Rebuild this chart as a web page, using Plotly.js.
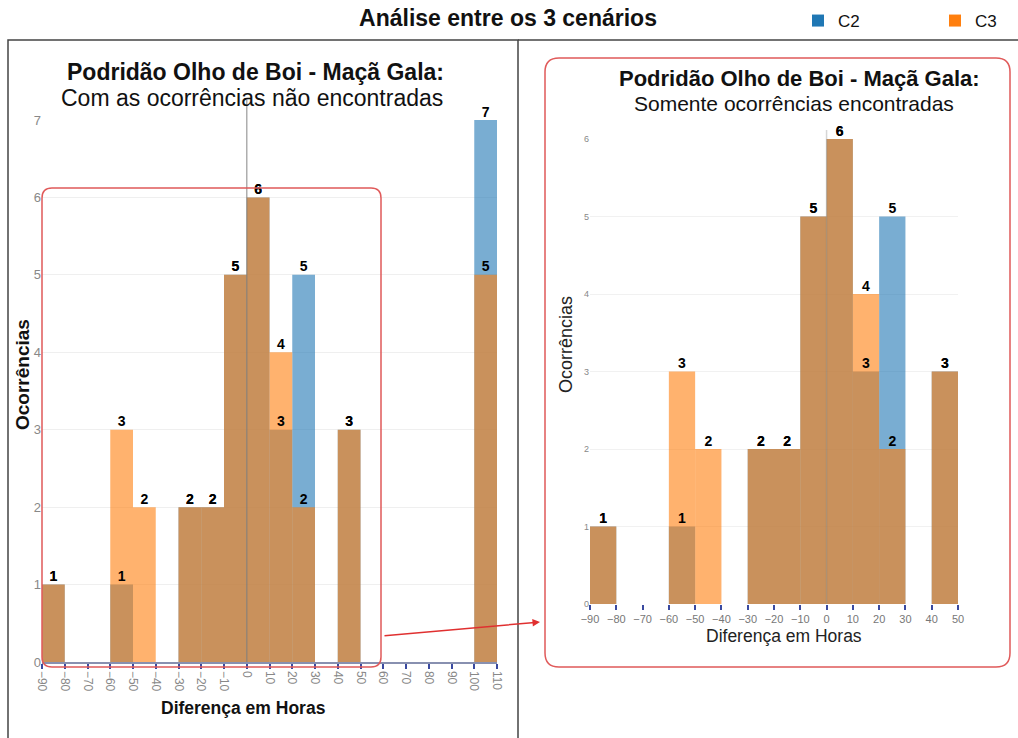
<!DOCTYPE html>
<html><head><meta charset="utf-8">
<script src="https://cdn.plot.ly/plotly-3.0.1.min.js"></script>
<style>html,body{margin:0;padding:0;background:#fff}#chart{width:1018px;height:738px}</style>
</head><body><div id="chart"></div>
<script>
// Bin starts (hours), bin width 10
const binStartAll = [-90, -60, -50, -30, -20, -10, 0, 10, 20, 40, 100];
const c2All       = [1, 1, 0, 2, 2, 5, 6, 3, 5, 3, 7];
const c3All       = [1, 3, 2, 2, 2, 5, 6, 4, 2, 3, 5];

const binStartFound = [-90, -60, -50, -30, -20, -10, 0, 10, 20, 40];
const c2Found       = [1, 1, 0, 2, 2, 5, 6, 3, 5, 3];
const c3Found       = [1, 3, 2, 2, 2, 5, 6, 4, 2, 3];

const binWidth = 10;
const seriesNames = ['C2', 'C3'];
const seriesColors = ['#1f77b4', '#ff7f0e'];

const W = 1018, H = 738;
const X = p => p / W, Y = p => 1 - p / H;
const FONT = 'Liberation Sans, Arial, sans-serif';
const lbl = v => v.map(n => n > 0 ? String(n) : '');

function bars(xs, ys, i, xa, ya, showleg) {
  return {
    type: 'bar', name: seriesNames[i], x: xs, y: ys, width: binWidth, offset: 0,
    marker: {color: seriesColors[i], opacity: 0.6, line: {width: 0}},
    xaxis: xa, yaxis: ya, showlegend: showleg, legendgroup: seriesNames[i], hoverinfo: 'x+y+name'
  };
}
function labels(xs, ys, xa, ya) {
  return {
    type: 'scatter', mode: 'text', x: xs.map(v => v + binWidth / 2), y: ys, text: lbl(ys),
    textposition: 'top center', cliponaxis: false,
    textfont: {family: FONT, size: 14, color: '#000', weight: 'bold'},
    xaxis: xa, yaxis: ya, showlegend: false, hoverinfo: 'skip'
  };
}

const data = [
  bars(binStartAll, c2All, 0, 'x', 'y', true),
  bars(binStartAll, c3All, 1, 'x', 'y', true),
  bars(binStartFound, c2Found, 0, 'x2', 'y2', false),
  bars(binStartFound, c3Found, 1, 'x2', 'y2', false),
  labels(binStartAll, c2All, 'x', 'y'),
  labels(binStartAll, c3All, 'x', 'y'),
  labels(binStartFound, c2Found, 'x2', 'y2'),
  labels(binStartFound, c3Found, 'x2', 'y2')
];

function rr(x0, y0, x1, y1, r) {
  const P = (x, y) => X(x) + ',' + Y(y);
  return 'M' + P(x0 + r, y0) + ' L' + P(x1 - r, y0) + ' Q' + P(x1, y0) + ' ' + P(x1, y0 + r) +
    ' L' + P(x1, y1 - r) + ' Q' + P(x1, y1) + ' ' + P(x1 - r, y1) +
    ' L' + P(x0 + r, y1) + ' Q' + P(x0, y1) + ' ' + P(x0, y1 - r) +
    ' L' + P(x0, y0 + r) + ' Q' + P(x0, y0) + ' ' + P(x0 + r, y0) + ' Z';
}

const tickBlue = '#3a4aa0';
const ann = (x, y, text, size, extra) => Object.assign({xref: 'paper', yref: 'paper', x: X(x), y: Y(y), xanchor: 'center', yanchor: 'middle', text: text, showarrow: false, font: {family: FONT, size: size, color: '#111'}}, extra || {});
const layout = {
  width: W, height: H, margin: {l: 0, r: 0, t: 0, b: 0, autoexpand: false},
  paper_bgcolor: '#fff', plot_bgcolor: 'rgba(0,0,0,0)',
  font: {family: FONT, color: '#000'},
  barmode: 'overlay',
  title: {text: '<b>Análise entre os 3 cenários</b>', x: X(508), xanchor: 'center', y: Y(18), yanchor: 'middle', xref: 'paper', yref: 'paper', font: {family: FONT, size: 23, color: '#111'}},
  showlegend: true,
  legend: {orientation: 'h', x: X(798), y: Y(3), xanchor: 'left', yanchor: 'top', entrywidth: 92, entrywidthmode: 'pixels', font: {family: FONT, size: 17, color: '#111'}, bgcolor: 'rgba(0,0,0,0)'},
  xaxis: {domain: [X(42), X(497)], range: [-90, 110], anchor: 'y', tick0: -90, dtick: 10, tickangle: 90,
    tickfont: {family: FONT, size: 12, color: '#888'}, ticks: 'outside', ticklen: 5, tickwidth: 2, tickcolor: tickBlue,
    showline: true, linecolor: '#8890b0', linewidth: 1.5, showgrid: false, zeroline: false, fixedrange: true},
  yaxis: {domain: [Y(662), Y(120)], range: [0, 7], anchor: 'x', dtick: 1, tickfont: {family: FONT, size: 13, color: '#888'},
    showgrid: true, gridcolor: '#efefef', zeroline: false, showline: false, ticks: '', fixedrange: true},
  xaxis2: {domain: [X(590), X(958)], range: [-90, 50], anchor: 'y2', tick0: -90, dtick: 10,
    tickfont: {family: FONT, size: 11, color: '#777'}, ticks: 'outside', ticklen: 5, tickwidth: 2, tickcolor: tickBlue,
    showline: false, showgrid: false, zeroline: false, fixedrange: true},
  yaxis2: {domain: [Y(604), Y(139)], range: [0, 6], anchor: 'x2', dtick: 1, tickfont: {family: FONT, size: 9, color: '#888'},
    showgrid: true, gridcolor: '#f1f1f1', zeroline: false, showline: false, ticks: '', fixedrange: true},
  shapes: [
    {type: 'rect', xref: 'paper', yref: 'paper', x0: X(8), x1: X(518), y0: Y(750), y1: Y(40), line: {color: '#444', width: 1.5}},
    {type: 'line', xref: 'paper', yref: 'paper', x0: X(518), x1: X(1018), y0: Y(40), y1: Y(40), line: {color: '#444', width: 1.5}},
    {type: 'line', xref: 'x', yref: 'paper', x0: 0, x1: 0, y0: Y(662), y1: Y(100), line: {color: 'rgba(120,120,120,0.6)', width: 1.5}, layer: 'above'},
    {type: 'line', xref: 'x2', yref: 'paper', x0: 0, x1: 0, y0: Y(604), y1: Y(130), line: {color: 'rgba(120,120,120,0.3)', width: 1.5}, layer: 'above'},
    {type: 'path', xref: 'paper', yref: 'paper', path: rr(42, 188, 381, 667, 10), line: {color: '#e05a5a', width: 1.5}},
    {type: 'path', xref: 'paper', yref: 'paper', path: rr(545, 58, 1010, 667, 14), line: {color: '#e05a5a', width: 1.5}}
  ],
  annotations: [
    ann(255, 72, '<b>Podridão Olho de Boi - Maçã Gala:</b>', 23),
    ann(252, 98, 'Com as ocorrências não encontradas', 23),
    ann(799, 78, '<b>Podridão Olho de Boi - Maçã Gala:</b>', 22),
    ann(794, 103, 'Somente ocorrências encontradas', 21),
    ann(243, 708, '<b>Diferença em Horas</b>', 17.5),
    ann(22, 375, '<b>Ocorrências</b>', 19, {textangle: -90}),
    ann(784, 636, 'Diferença em Horas', 17.5, {font: {family: FONT, size: 17.5, color: '#222'}}),
    ann(566, 345, 'Ocorrências', 18, {textangle: -90, font: {family: FONT, size: 18, color: '#222'}}),
    {xref: 'paper', yref: 'paper', x: X(540), y: Y(622), ax: -157, ay: 14, axref: 'pixel', ayref: 'pixel', text: '', showarrow: true, arrowhead: 2, arrowsize: 1, arrowwidth: 1.5, arrowcolor: '#e03030', standoff: 0}
  ]
};

Plotly.newPlot('chart', data, layout, {displayModeBar: false, staticPlot: true});
</script></body></html>
